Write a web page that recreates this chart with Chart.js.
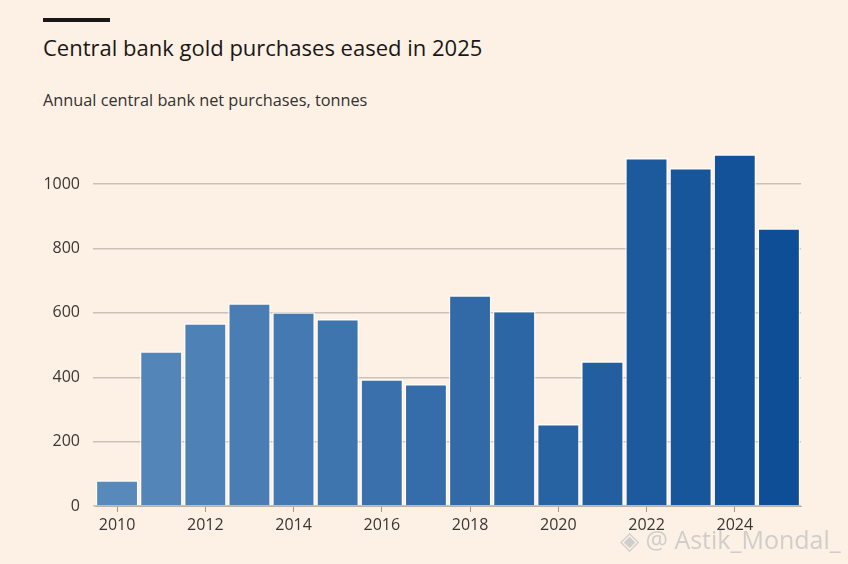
<!DOCTYPE html>
<html>
<head>
<meta charset="utf-8">
<script src="https://cdn.jsdelivr.net/npm/chart.js@4"></script>
<style>
  html, body { margin:0; padding:0; background:#fdf1e5; }
  body { width:848px; height:564px; position:relative; overflow:hidden; font-family:"Open Sans",sans-serif; color:#33302e; }
  #bar { position:absolute; left:43px; top:18px; width:67px; height:4px; background:#1a1716; }
  #title { position:absolute; left:43px; top:32px; font-size:22px; font-weight:400; color:#1a1716; white-space:nowrap; }
  #sub { position:absolute; left:43px; top:89px; font-size:16.3px; color:#33302e; white-space:nowrap; }
  #wrap { position:absolute; left:0; top:140px; width:848px; height:424px; }
  #wm { position:absolute; left:620px; top:522px; font-size:25px; color:rgba(200,200,200,0.85); white-space:nowrap; font-family:"Open Sans",sans-serif; }
</style>
</head>
<body>
<div id="bar"></div>
<div id="title">Central bank gold purchases eased in 2025</div>
<div id="sub">Annual central bank net purchases, tonnes</div>
<div id="wrap"><canvas id="c"></canvas></div>
<div id="wm">◈ @ Astik_Mondal_</div>
<script>
const years = ['2010','2011','2012','2013','2014','2015','2016','2017','2018','2019','2020','2021','2022','2023','2024','2025'];
const purchases = [80, 481, 568, 630, 602, 581, 394, 379, 655, 606, 255, 450, 1081, 1050, 1093, 863];
const yTicks = [0, 200, 400, 600, 800, 1000];

function lerp(a, b, t) { return Math.round(a + (b - a) * t); }
const c0 = [88, 137, 187], c1 = [14, 78, 150];
const colors = years.map((_, i) => {
  const t = i / (years.length - 1);
  return `rgb(${lerp(c0[0],c1[0],t)},${lerp(c0[1],c1[1],t)},${lerp(c0[2],c1[2],t)})`;
});

new Chart(document.getElementById('c'), {
  type: 'bar',
  data: {
    labels: years,
    datasets: [{
      data: purchases,
      backgroundColor: colors,
      borderColor: 'rgba(255,255,255,0.75)',
      borderWidth: { top: 1.5, left: 1.5, right: 1.5, bottom: 0 },
      borderSkipped: 'start',
      barPercentage: 0.97,
      categoryPercentage: 1
    }]
  },
  options: {
    responsive: true,
    maintainAspectRatio: false,
    animation: false,
    layout: { padding: { left: 0, right: 47, top: 12, bottom: 28 } },
    plugins: { legend: { display: false }, tooltip: { enabled: false } },
    scales: {
      x: {
        offset: true,
        grid: {
          offset: false,
          drawOnChartArea: false,
          drawTicks: true,
          tickLength: 6,
          tickColor: (ctx) => (ctx.index % 2 === 0 ? '#9e9892' : 'rgba(0,0,0,0)')
        },
        border: { display: true, color: '#b9b0a8', width: 1 },
        ticks: {
          autoSkip: false,
          maxRotation: 0,
          padding: 4,
          color: '#3a3633',
          font: { family: 'Open Sans', size: 16 },
          callback: function(v, i) { return i % 2 === 0 ? years[i] : ''; }
        },
        afterFit: (s) => { s.height = 30; s.paddingLeft = 0; s.paddingRight = 0; }
      },
      y: {
        min: 0,
        max: 1100,
        afterBuildTicks: (s) => { s.ticks = yTicks.map(v => ({ value: v })); },
        grid: {
          color: '#ccc1b7',
          lineWidth: 1.5,
          drawTicks: true,
          tickLength: 2,
          tickColor: '#ccc1b7'
        },
        border: { display: false },
        ticks: {
          padding: 13,
          color: '#3a3633',
          font: { family: 'Open Sans', size: 16 },
          callback: (v) => String(v)
        },
        afterFit: (s) => { s.width = 95; s.paddingTop = 0; s.paddingBottom = 0; }
      }
    }
  }
});
</script>
</body>
</html>
